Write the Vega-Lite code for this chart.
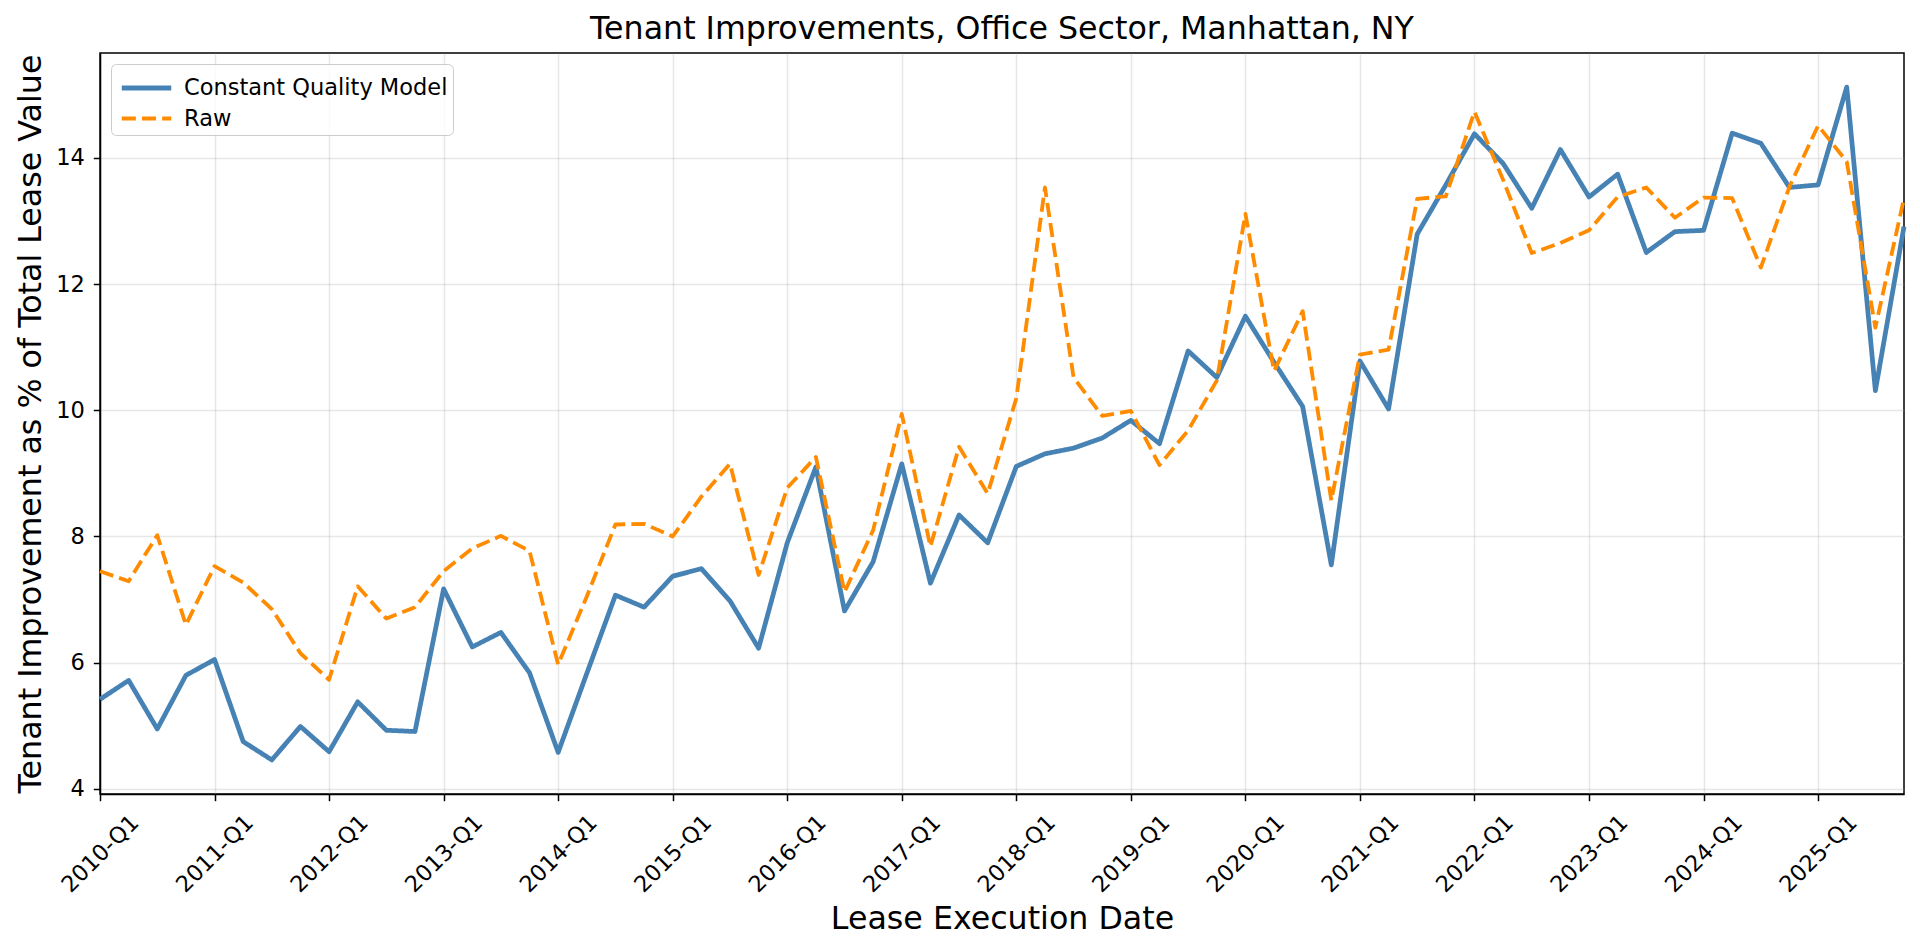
{
  "$schema": "https://vega.github.io/schema/vega-lite/v6.json",
  "width": 1804,
  "height": 741,
  "autosize": {"type": "none"},
  "padding": {"left": 100, "top": 53, "right": 16, "bottom": 157},
  "background": "white",
  "title": {
    "text": "Tenant Improvements, Office Sector, Manhattan, NY",
    "font": "DejaVu Sans",
    "fontSize": 31.7,
    "fontWeight": "normal",
    "color": "#000000",
    "anchor": "middle",
    "frame": "group",
    "baseline": "alphabetic",
    "offset": -17.5
  },
  "config": {
    "view": {"stroke": "#000000", "strokeWidth": 1.5},
    "axis": {
      "labelFont": "DejaVu Sans",
      "labelFontSize": 22.5,
      "labelColor": "#000000",
      "titleFont": "DejaVu Sans",
      "titleFontSize": 31.7,
      "titleFontWeight": "normal",
      "titleColor": "#000000",
      "tickColor": "#000000",
      "tickSize": 6.7,
      "tickWidth": 1.5,
      "domainColor": "#000000",
      "domainWidth": 1.5,
      "grid": true,
      "gridColor": "#b0b0b0",
      "gridOpacity": 0.3,
      "gridWidth": 1.5
    },
    "legend": {
      "title": null,
      "orient": "none",
      "legendX": 11,
      "legendY": 11,
      "direction": "vertical",
      "symbolType": "M-1.5,0H1.5",
      "symbolSize": 1089,
      "symbolStrokeWidth": 4.5,
      "symbolOffset": 11.5,
      "labelFont": "DejaVu Sans",
      "labelFontSize": 22.5,
      "labelColor": "#000000",
      "labelLimit": 500,
      "labelOffset": 18.5,
      "padding": 5,
      "rowPadding": 0,
      "fillColor": "rgba(255,255,255,0.8)",
      "strokeColor": "#cccccc",
      "cornerRadius": 5
    }
  },
  "data": {
    "values": [
      {"quarter": "2010-Q1", "series": "Constant Quality Model", "value": 5.42},
      {"quarter": "2010-Q2", "series": "Constant Quality Model", "value": 5.72},
      {"quarter": "2010-Q3", "series": "Constant Quality Model", "value": 4.95},
      {"quarter": "2010-Q4", "series": "Constant Quality Model", "value": 5.80},
      {"quarter": "2011-Q1", "series": "Constant Quality Model", "value": 6.05},
      {"quarter": "2011-Q2", "series": "Constant Quality Model", "value": 4.75},
      {"quarter": "2011-Q3", "series": "Constant Quality Model", "value": 4.46},
      {"quarter": "2011-Q4", "series": "Constant Quality Model", "value": 4.99},
      {"quarter": "2012-Q1", "series": "Constant Quality Model", "value": 4.59},
      {"quarter": "2012-Q2", "series": "Constant Quality Model", "value": 5.38},
      {"quarter": "2012-Q3", "series": "Constant Quality Model", "value": 4.93},
      {"quarter": "2012-Q4", "series": "Constant Quality Model", "value": 4.91},
      {"quarter": "2013-Q1", "series": "Constant Quality Model", "value": 7.17},
      {"quarter": "2013-Q2", "series": "Constant Quality Model", "value": 6.25},
      {"quarter": "2013-Q3", "series": "Constant Quality Model", "value": 6.48},
      {"quarter": "2013-Q4", "series": "Constant Quality Model", "value": 5.84},
      {"quarter": "2014-Q1", "series": "Constant Quality Model", "value": 4.58},
      {"quarter": "2014-Q2", "series": "Constant Quality Model", "value": 5.83},
      {"quarter": "2014-Q3", "series": "Constant Quality Model", "value": 7.07},
      {"quarter": "2014-Q4", "series": "Constant Quality Model", "value": 6.88},
      {"quarter": "2015-Q1", "series": "Constant Quality Model", "value": 7.37},
      {"quarter": "2015-Q2", "series": "Constant Quality Model", "value": 7.49},
      {"quarter": "2015-Q3", "series": "Constant Quality Model", "value": 6.98},
      {"quarter": "2015-Q4", "series": "Constant Quality Model", "value": 6.23},
      {"quarter": "2016-Q1", "series": "Constant Quality Model", "value": 7.90},
      {"quarter": "2016-Q2", "series": "Constant Quality Model", "value": 9.10},
      {"quarter": "2016-Q3", "series": "Constant Quality Model", "value": 6.82},
      {"quarter": "2016-Q4", "series": "Constant Quality Model", "value": 7.60},
      {"quarter": "2017-Q1", "series": "Constant Quality Model", "value": 9.15},
      {"quarter": "2017-Q2", "series": "Constant Quality Model", "value": 7.26},
      {"quarter": "2017-Q3", "series": "Constant Quality Model", "value": 8.34},
      {"quarter": "2017-Q4", "series": "Constant Quality Model", "value": 7.90},
      {"quarter": "2018-Q1", "series": "Constant Quality Model", "value": 9.11},
      {"quarter": "2018-Q2", "series": "Constant Quality Model", "value": 9.31},
      {"quarter": "2018-Q3", "series": "Constant Quality Model", "value": 9.40},
      {"quarter": "2018-Q4", "series": "Constant Quality Model", "value": 9.56},
      {"quarter": "2019-Q1", "series": "Constant Quality Model", "value": 9.84},
      {"quarter": "2019-Q2", "series": "Constant Quality Model", "value": 9.47},
      {"quarter": "2019-Q3", "series": "Constant Quality Model", "value": 10.94},
      {"quarter": "2019-Q4", "series": "Constant Quality Model", "value": 10.52},
      {"quarter": "2020-Q1", "series": "Constant Quality Model", "value": 11.49},
      {"quarter": "2020-Q2", "series": "Constant Quality Model", "value": 10.76},
      {"quarter": "2020-Q3", "series": "Constant Quality Model", "value": 10.06},
      {"quarter": "2020-Q4", "series": "Constant Quality Model", "value": 7.55},
      {"quarter": "2021-Q1", "series": "Constant Quality Model", "value": 10.78},
      {"quarter": "2021-Q2", "series": "Constant Quality Model", "value": 10.02},
      {"quarter": "2021-Q3", "series": "Constant Quality Model", "value": 12.79},
      {"quarter": "2021-Q4", "series": "Constant Quality Model", "value": 13.57},
      {"quarter": "2022-Q1", "series": "Constant Quality Model", "value": 14.38},
      {"quarter": "2022-Q2", "series": "Constant Quality Model", "value": 13.91},
      {"quarter": "2022-Q3", "series": "Constant Quality Model", "value": 13.20},
      {"quarter": "2022-Q4", "series": "Constant Quality Model", "value": 14.13},
      {"quarter": "2023-Q1", "series": "Constant Quality Model", "value": 13.38},
      {"quarter": "2023-Q2", "series": "Constant Quality Model", "value": 13.74},
      {"quarter": "2023-Q3", "series": "Constant Quality Model", "value": 12.50},
      {"quarter": "2023-Q4", "series": "Constant Quality Model", "value": 12.83},
      {"quarter": "2024-Q1", "series": "Constant Quality Model", "value": 12.85},
      {"quarter": "2024-Q2", "series": "Constant Quality Model", "value": 14.39},
      {"quarter": "2024-Q3", "series": "Constant Quality Model", "value": 14.23},
      {"quarter": "2024-Q4", "series": "Constant Quality Model", "value": 13.53},
      {"quarter": "2025-Q1", "series": "Constant Quality Model", "value": 13.57},
      {"quarter": "2025-Q2", "series": "Constant Quality Model", "value": 15.12},
      {"quarter": "2025-Q3", "series": "Constant Quality Model", "value": 10.31},
      {"quarter": "2025-Q4", "series": "Constant Quality Model", "value": 12.91},
      {"quarter": "2010-Q1", "series": "Raw", "value": 7.45},
      {"quarter": "2010-Q2", "series": "Raw", "value": 7.29},
      {"quarter": "2010-Q3", "series": "Raw", "value": 8.02},
      {"quarter": "2010-Q4", "series": "Raw", "value": 6.60},
      {"quarter": "2011-Q1", "series": "Raw", "value": 7.53},
      {"quarter": "2011-Q2", "series": "Raw", "value": 7.27},
      {"quarter": "2011-Q3", "series": "Raw", "value": 6.85},
      {"quarter": "2011-Q4", "series": "Raw", "value": 6.15},
      {"quarter": "2012-Q1", "series": "Raw", "value": 5.73},
      {"quarter": "2012-Q2", "series": "Raw", "value": 7.21},
      {"quarter": "2012-Q3", "series": "Raw", "value": 6.70},
      {"quarter": "2012-Q4", "series": "Raw", "value": 6.88},
      {"quarter": "2013-Q1", "series": "Raw", "value": 7.45},
      {"quarter": "2013-Q2", "series": "Raw", "value": 7.81},
      {"quarter": "2013-Q3", "series": "Raw", "value": 8.01},
      {"quarter": "2013-Q4", "series": "Raw", "value": 7.77},
      {"quarter": "2014-Q1", "series": "Raw", "value": 5.97},
      {"quarter": "2014-Q2", "series": "Raw", "value": 7.05},
      {"quarter": "2014-Q3", "series": "Raw", "value": 8.19},
      {"quarter": "2014-Q4", "series": "Raw", "value": 8.20},
      {"quarter": "2015-Q1", "series": "Raw", "value": 8.00},
      {"quarter": "2015-Q2", "series": "Raw", "value": 8.63},
      {"quarter": "2015-Q3", "series": "Raw", "value": 9.15},
      {"quarter": "2015-Q4", "series": "Raw", "value": 7.39},
      {"quarter": "2016-Q1", "series": "Raw", "value": 8.77},
      {"quarter": "2016-Q2", "series": "Raw", "value": 9.26},
      {"quarter": "2016-Q3", "series": "Raw", "value": 7.12},
      {"quarter": "2016-Q4", "series": "Raw", "value": 8.10},
      {"quarter": "2017-Q1", "series": "Raw", "value": 9.94},
      {"quarter": "2017-Q2", "series": "Raw", "value": 7.84},
      {"quarter": "2017-Q3", "series": "Raw", "value": 9.42},
      {"quarter": "2017-Q4", "series": "Raw", "value": 8.68},
      {"quarter": "2018-Q1", "series": "Raw", "value": 10.19},
      {"quarter": "2018-Q2", "series": "Raw", "value": 13.53},
      {"quarter": "2018-Q3", "series": "Raw", "value": 10.52},
      {"quarter": "2018-Q4", "series": "Raw", "value": 9.91},
      {"quarter": "2019-Q1", "series": "Raw", "value": 9.99},
      {"quarter": "2019-Q2", "series": "Raw", "value": 9.13},
      {"quarter": "2019-Q3", "series": "Raw", "value": 9.68},
      {"quarter": "2019-Q4", "series": "Raw", "value": 10.47},
      {"quarter": "2020-Q1", "series": "Raw", "value": 13.11},
      {"quarter": "2020-Q2", "series": "Raw", "value": 10.62},
      {"quarter": "2020-Q3", "series": "Raw", "value": 11.57},
      {"quarter": "2020-Q4", "series": "Raw", "value": 8.57},
      {"quarter": "2021-Q1", "series": "Raw", "value": 10.88},
      {"quarter": "2021-Q2", "series": "Raw", "value": 10.96},
      {"quarter": "2021-Q3", "series": "Raw", "value": 13.35},
      {"quarter": "2021-Q4", "series": "Raw", "value": 13.39},
      {"quarter": "2022-Q1", "series": "Raw", "value": 14.73},
      {"quarter": "2022-Q2", "series": "Raw", "value": 13.65},
      {"quarter": "2022-Q3", "series": "Raw", "value": 12.49},
      {"quarter": "2022-Q4", "series": "Raw", "value": 12.65},
      {"quarter": "2023-Q1", "series": "Raw", "value": 12.85},
      {"quarter": "2023-Q2", "series": "Raw", "value": 13.38},
      {"quarter": "2023-Q3", "series": "Raw", "value": 13.53},
      {"quarter": "2023-Q4", "series": "Raw", "value": 13.05},
      {"quarter": "2024-Q1", "series": "Raw", "value": 13.37},
      {"quarter": "2024-Q2", "series": "Raw", "value": 13.36},
      {"quarter": "2024-Q3", "series": "Raw", "value": 12.26},
      {"quarter": "2024-Q4", "series": "Raw", "value": 13.54},
      {"quarter": "2025-Q1", "series": "Raw", "value": 14.51},
      {"quarter": "2025-Q2", "series": "Raw", "value": 13.94},
      {"quarter": "2025-Q3", "series": "Raw", "value": 11.31},
      {"quarter": "2025-Q4", "series": "Raw", "value": 13.36}
    ]
  },
  "mark": {"type": "line", "strokeJoin": "round"},
  "encoding": {
    "x": {
      "field": "quarter",
      "type": "ordinal",
      "sort": null,
      "scale": {"type": "point", "padding": 0},
      "axis": {
        "title": "Lease Execution Date",
        "titleX": 902,
        "titleY": 134,
        "titleAlign": "center",
        "titleBaseline": "alphabetic",
        "values": ["2010-Q1", "2011-Q1", "2012-Q1", "2013-Q1", "2014-Q1", "2015-Q1", "2016-Q1", "2017-Q1", "2018-Q1", "2019-Q1", "2020-Q1", "2021-Q1", "2022-Q1", "2023-Q1", "2024-Q1", "2025-Q1"],
        "labelAngle": -45,
        "labelAlign": "center",
        "labelBaseline": "middle",
        "labelPadding": 52.8
      }
    },
    "y": {
      "field": "value",
      "type": "quantitative",
      "scale": {"domain": [3.92, 15.66], "nice": false, "zero": false},
      "axis": {
        "title": "Tenant Improvement as % of Total Lease Value",
        "titleAngle": -90,
        "titleX": -60,
        "titleY": 370.5,
        "titleAlign": "center",
        "titleBaseline": "alphabetic",
        "values": [4, 6, 8, 10, 12, 14],
        "labelPadding": 9
      }
    },
    "color": {
      "field": "series",
      "type": "nominal",
      "scale": {"domain": ["Constant Quality Model", "Raw"], "range": ["#4682b4", "#ff8c00"]},
      "legend": {"title": null}
    },
    "strokeDash": {
      "field": "series",
      "type": "nominal",
      "scale": {"domain": ["Constant Quality Model", "Raw"], "range": [[1, 0], [14.1, 6.1]]},
      "legend": {"title": null}
    },
    "strokeWidth": {
      "field": "series",
      "type": "ordinal",
      "scale": {"domain": ["Constant Quality Model", "Raw"], "range": [4.76, 3.8]},
      "legend": null
    }
  }
}
